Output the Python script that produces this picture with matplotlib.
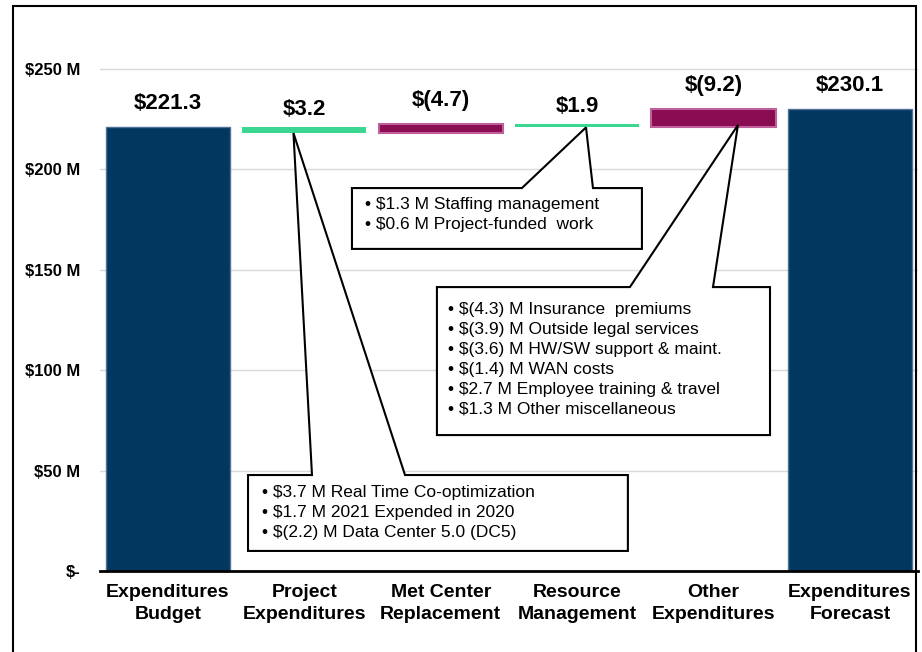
import matplotlib
matplotlib.use('Agg')
import matplotlib.pyplot as plt
from matplotlib.patches import Polygon, Rectangle

# --- data ---
categories = ["Expenditures\nBudget", "Project\nExpenditures", "Met Center\nReplacement",
              "Resource\nManagement", "Other\nExpenditures", "Expenditures\nForecast"]
budget = 221.3
variances = [3.2, -4.7, 1.9, -9.2]   # positive = favourable (spend goes down)
forecast = 230.1
value_labels = ["$221.3", "$3.2", "$(4.7)", "$1.9", "$(9.2)", "$230.1"]
yticks = [0, 50, 100, 150, 200, 250]
ytick_labels = ["$-", "$50 M", "$100 M", "$150 M", "$200 M", "$250 M"]

project_notes = ["$3.7 M Real Time Co-optimization",
                 "$1.7 M 2021 Expended in 2020",
                 "$(2.2) M Data Center 5.0 (DC5)"]
resource_notes = ["$1.3 M Staffing management",
                  "$0.6 M Project-funded  work"]
other_notes = ["$(4.3) M Insurance  premiums",
               "$(3.9) M Outside legal services",
               "$(3.6) M HW/SW support & maint.",
               "$(1.4) M WAN costs",
               "$2.7 M Employee training & travel",
               "$1.3 M Other miscellaneous"]

NAVY = '#02375F'
GREEN = '#3AD692'
PURPLE = '#8A0C52'

plt.rcParams['font.family'] = ['Liberation Sans', 'DejaVu Sans']

fig = plt.figure(figsize=(9.22, 6.52), dpi=100)
ax = fig.add_axes([0.1082, 0.1242, 0.8876, 0.847])

x = list(range(len(categories)))
w = 0.91

# totals
ax.bar(x[0], budget, width=w, color=NAVY, edgecolor='#4D7399', linewidth=1, zorder=3)
ax.bar(x[-1], forecast, width=w, color=NAVY, edgecolor='#4D7399', linewidth=1, zorder=3)

# floating variance bars
tops = [budget]
running = budget
for i, v in enumerate(variances):
    new = running - v
    lo = min(running, new)
    if v > 0:
        ax.bar(x[i + 1], abs(v), bottom=lo, width=w, color=GREEN, linewidth=0, zorder=3)
    else:
        ax.bar(x[i + 1], abs(v), bottom=lo, width=w, color=PURPLE,
               edgecolor='#C0609A', linewidth=1.5, zorder=3)
    tops.append(max(running, new))
    running = new
tops.append(forecast)

# value labels
for i, (t, lab) in enumerate(zip(tops, value_labels)):
    off = 8.5 if (0 < i < len(tops) - 1 and variances[i - 1] > 0) else 13
    ax.annotate(lab, (x[i], t), xytext=(0, off), textcoords='offset points',
                ha='center', va='baseline', fontsize=16, fontweight='bold')

ax.set_xlim(-0.5, 5.5)
ax.set_ylim(0, 275)
ax.set_yticks(yticks)
ax.set_yticklabels(ytick_labels, fontsize=12, fontweight='bold')
ax.set_xticks(x)
ax.set_xticklabels(categories, fontsize=14, fontweight='bold', linespacing=1.4)
ax.tick_params(axis='y', length=0, pad=14)
ax.tick_params(axis='x', length=0, pad=9.5)
ax.grid(axis='y', color='#D9D9D9', linewidth=1, zorder=0)
for s in ['top', 'right', 'left']:
    ax.spines[s].set_visible(False)
ax.spines['bottom'].set_color('black')
ax.spines['bottom'].set_linewidth(2)
ax.spines['bottom'].set_zorder(4)


def callout(box, base, tip, lines, text_xy):
    x0, x1, y0, y1 = box
    pts = [(x0, y1), (base[0], y1), tip, (base[1], y1), (x1, y1), (x1, y0), (x0, y0)]
    ax.add_patch(Polygon(pts, closed=True, facecolor='white', edgecolor='black',
                         linewidth=1.5, zorder=5, clip_on=False))
    ax.text(text_xy[0], text_xy[1], "\n".join("\u2022 " + l for l in lines),
            ha='left', va='center', fontsize=12.5, linespacing=1.42, zorder=6)


callout((0.587, 3.372, 10.0, 47.8), (1.056, 1.738), (0.92, 218.1), project_notes, (0.69, 29.0))
callout((1.349, 3.475, 160.4, 190.7), (2.595, 3.116), (3.065, 220.9), resource_notes, (1.445, 177.6))
callout((1.972, 4.414, 67.7, 141.4), (3.387, 3.996), (4.179, 222.1), other_notes, (2.055, 105.5))

# outer frame
fig.add_artist(Rectangle((13 / 922, -0.02), (916 - 13) / 922, 1.02 - 6 / 652,
                         transform=fig.transFigure, fill=False, edgecolor='black', linewidth=1.5))

fig.savefig('out.png', dpi=100)
plt.close(fig)
